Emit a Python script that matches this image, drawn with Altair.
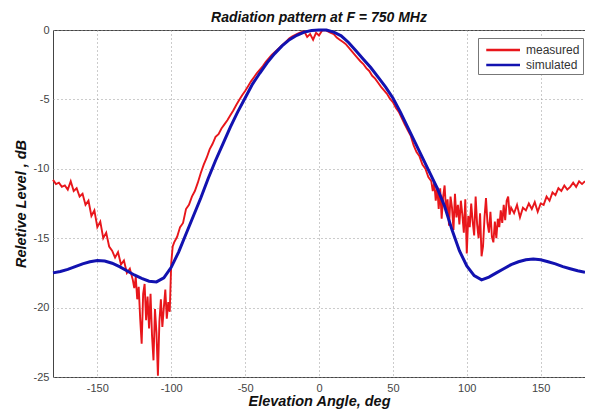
import altair as alt
import pandas as pd

# Simulated pattern (every 5 deg)
sim_angle = list(range(-180, 181, 5))
sim_level = [
    -17.5, -17.4, -17.25, -17.05, -16.85, -16.7, -16.6, -16.65, -16.8, -17.05,
    -17.35, -17.65, -17.9, -18.1, -18.15, -17.85, -17.1, -16.0, -14.7, -13.4,
    -12.1, -10.7, -9.4, -8.2, -7.0, -5.9, -4.9, -3.9, -3.1, -2.35,
    -1.7, -1.15, -0.7, -0.38, -0.15, -0.04, 0.0, 0.0, -0.15, -0.42,
    -0.9, -1.5, -2.1, -2.7, -3.4, -4.1, -4.9, -5.9, -7.0, -8.1,
    -9.2, -10.3, -11.4, -12.7, -14.4, -15.9, -17.0, -17.7, -18.0, -17.8,
    -17.5, -17.2, -16.9, -16.7, -16.55, -16.5, -16.55, -16.7, -16.85, -17.05,
    -17.2, -17.35, -17.45,
]

# Measured pattern, read in pieces
meas_angle_a = list(range(-180, -127, 2))
meas_level_a = [
    -10.8, -11.1, -11.0, -11.3, -11.2, -11.5, -10.9, -11.6, -11.4, -12.0,
    -11.8, -12.6, -12.3, -13.4, -13.0, -14.2, -13.8, -15.0, -14.6, -15.6,
    -15.9, -16.4, -16.0, -16.9, -16.6, -17.5, -17.2,
]
meas_angle_b = list(range(-126, -98, 1))
meas_level_b = [
    -18.0, -18.6, -17.8, -19.4, -18.5, -20.8, -22.6, -19.0, -18.3, -20.9,
    -19.2, -21.5, -19.0, -22.0, -23.8, -20.1, -21.8, -24.9, -21.0, -19.4,
    -21.4, -20.0, -18.7, -20.8, -19.6, -20.3, -16.8, -15.6,
]
meas_angle_c = list(range(-98, 75, 2))
meas_level_c = [
    -15.3, -14.9, -14.2, -13.9, -12.9, -12.6, -12.0, -11.6, -11.0, -10.3,
    -9.7, -9.2, -8.6, -8.2, -7.7, -7.5, -7.1, -6.8, -6.5, -6.15,
    -5.8, -5.4, -5.05, -4.7, -4.4, -4.05, -3.7, -3.4, -3.1, -2.85,
    -2.6, -2.3, -2.05, -1.8, -1.6, -1.4, -1.2, -1.0, -0.8, -0.6,
    -0.45, -0.35, -0.25, -0.15, -0.1, -0.5, -0.3, -0.7, -0.2, -0.4,
    -0.05, 0.0, -0.1, -0.2, -0.3, -0.55, -0.7, -0.85, -1.0, -1.25,
    -1.5, -1.75, -2.0, -2.25, -2.45, -2.75, -2.95, -3.3, -3.5, -3.8,
    -4.1, -4.35, -4.6, -4.95, -5.2, -5.6, -5.9, -6.35, -6.8, -7.2,
    -7.6, -8.3, -8.8, -9.1, -9.7, -10.0, -10.6,
]
meas_angle_d = list(range(76, 131, 1))
meas_level_d = [
    -10.9, -11.6, -11.0, -12.3, -11.3, -12.9, -11.4, -13.6, -12.0, -11.2,
    -13.1, -12.2, -14.1, -12.0, -12.8, -14.4, -11.8, -13.5, -12.6, -14.0,
    -12.3, -13.3, -14.6, -12.2, -16.1, -13.4, -14.2, -12.5, -13.8, -14.8,
    -12.0, -14.0, -15.0, -13.2, -16.3, -15.6, -13.5, -12.1, -13.9, -14.6,
    -13.1, -14.9, -15.3, -13.8, -15.0, -13.6, -14.2, -13.0, -13.9, -12.6,
    -13.7, -12.3, -12.0, -13.3, -12.8,
]
meas_angle_e = list(range(132, 181, 2))
meas_level_e = [
    -13.2, -12.6, -13.5, -12.8, -13.0, -12.5, -12.9, -12.4, -13.1, -12.5,
    -12.6, -12.0, -12.3, -11.7, -11.9, -11.4, -11.6, -11.2, -11.5, -11.3,
    -11.0, -11.3, -10.9, -11.1, -10.9,
]

meas_angle = meas_angle_a + meas_angle_b + meas_angle_c + meas_angle_d + meas_angle_e
meas_level = meas_level_a + meas_level_b + meas_level_c + meas_level_d + meas_level_e

meas = pd.DataFrame({"angle": meas_angle, "level": meas_level, "series": "measured"})
sim = pd.DataFrame({"angle": sim_angle, "level": sim_level, "series": "simulated"})

FONT = "Liberation Sans"

color = alt.Color(
    "series:N",
    scale=alt.Scale(domain=["measured", "simulated"], range=["#e8161b", "#1212b0"]),
    legend=alt.Legend(
        title=None,
        orient="none",
        legendX=425,
        legendY=8,
        symbolType="M-0.5,0H4",
        symbolSize=225,
        symbolStrokeWidth=2.5,
        labelOffset=27,
        strokeColor="#777777",
        fillColor="white",
        padding=3,
        labelFont=FONT,
        labelFontSize=12,
        labelColor="#333333",
        rowPadding=0,
    ),
)

x = alt.X(
    "angle:Q",
    scale=alt.Scale(domain=[-180, 180], nice=False),
    axis=alt.Axis(
        values=[-150, -100, -50, 0, 50, 100, 150],
        title="Elevation Angle, deg",
        labelExpr="'' + datum.value",
    ),
)
y = alt.Y(
    "level:Q",
    scale=alt.Scale(domain=[-25, 0], nice=False),
    axis=alt.Axis(
        values=[-25, -20, -15, -10, -5, 0],
        title="Reletive Level , dB",
        labelExpr="'' + datum.value",
    ),
)

red = alt.Chart(meas).mark_line(strokeWidth=1.9).encode(x=x, y=y, color=color)
blue = alt.Chart(sim).mark_line(strokeWidth=3).encode(x=x, y=y, color=color)

chart = (
    alt.layer(red, blue)
    .properties(
        width=532,
        height=347,
        autosize=alt.AutoSizeParams(type="none"),
        padding={"left": 45, "top": 22, "right": 0, "bottom": 32},
        title=alt.TitleParams(
            "Radiation pattern at F = 750 MHz",
            font=FONT,
            fontSize=14,
            fontWeight="bold",
            fontStyle="italic",
            color="#111111",
            frame="group",
            offset=-1,
        ),
    )
    .configure_view(stroke="#444444", strokeWidth=1)
    .configure_axis(
        labelFont=FONT,
        labelFontSize=11,
        labelColor="#444444",
        titleFont=FONT,
        titleFontSize=14.5,
        titleFontWeight="bold",
        titleFontStyle="italic",
        titleColor="#111111",
        grid=True,
        gridColor="#999999",
        gridDash=[1, 3],
        gridWidth=1,
        domain=False,
        ticks=False,
    )
    .configure_axisX(labelPadding=5, titlePadding=1)
    .configure_axisY(labelPadding=4, titlePadding=5)
)

chart.save("out.html", embed_options={"renderer": "svg", "actions": False})
